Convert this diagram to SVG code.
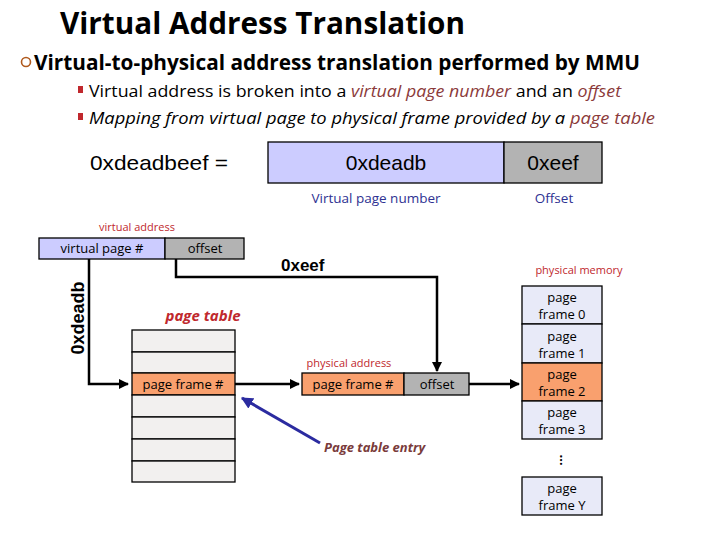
<svg xmlns="http://www.w3.org/2000/svg" width="720" height="540" viewBox="0 0 720 540">
<defs>
<style>
.t{font-family:"Open Sans","Liberation Sans",sans-serif;}
.a{font-family:"Liberation Sans",Arial,sans-serif;}
.box{stroke:#000;stroke-width:1.3;}
.vpn{fill:#ccccff;}
.off{fill:#b3b3b3;}
.org{fill:#f9a06e;}
.pt{fill:#f2f0ef;}
.pm{fill:#e8eaf8;}
.ln{fill:none;stroke:#000;stroke-width:2.5;}
.red{fill:#c0282d;}
.brn{fill:#8b3a3a;}
.lbl{font-size:13px;fill:#000;text-anchor:middle;}
</style>
<marker id="ah" viewBox="0 0 10 10" refX="9" refY="5" markerWidth="4" markerHeight="4" orient="auto"><path d="M0,0L10,5L0,10z" fill="#000"/></marker>
<marker id="bh" viewBox="0 0 10 10" refX="9" refY="5" markerWidth="4" markerHeight="4" orient="auto"><path d="M0,0L10,5L0,10z" fill="#2b2ba0"/></marker>
</defs>
<rect width="720" height="540" fill="#fff"/>

<g id="title">
<text class="t" x="60" y="34" font-size="30" font-weight="bold" textLength="405" lengthAdjust="spacingAndGlyphs">Virtual Address Translation</text>
<circle cx="26" cy="62" r="4.5" fill="none" stroke="#b05a1e" stroke-width="1.6"/>
<text class="t" x="34" y="70" font-size="21" font-weight="bold" textLength="606" lengthAdjust="spacingAndGlyphs">Virtual-to-physical address translation performed by MMU</text>
<rect x="78" y="86" width="5" height="7" fill="#c0282d"/>
<text class="t" x="89" y="97" font-size="16" textLength="532" lengthAdjust="spacingAndGlyphs">Virtual address is broken into a <tspan font-style="italic" class="brn">virtual page number</tspan> and an <tspan font-style="italic" class="brn">offset</tspan></text>
<rect x="78" y="113" width="5" height="7" fill="#c0282d"/>
<text class="t" x="89" y="124" font-size="16" font-style="italic" textLength="566" lengthAdjust="spacingAndGlyphs">Mapping from virtual page to physical frame provided by a <tspan class="brn">page table</tspan></text>
</g>

<g id="address">
<text class="a" x="90" y="170" font-size="21" textLength="138" lengthAdjust="spacingAndGlyphs">0xdeadbeef =</text>
<rect class="box vpn" x="268" y="142" width="236" height="41"/>
<rect class="box off" x="504" y="142" width="98" height="41"/>
<text class="a" x="386" y="170" font-size="21" text-anchor="middle">0xdeadb</text>
<text class="a" x="553" y="170" font-size="21" text-anchor="middle">0xeef</text>
<text class="t" x="376" y="203" font-size="13.5" fill="#2e3192" text-anchor="middle">Virtual page number</text>
<text class="t" x="554" y="203" font-size="13.5" fill="#2e3192" text-anchor="middle">Offset</text>
</g>

<g id="virtual-address">
<text class="t red" x="137" y="231" font-size="11" text-anchor="middle">virtual address</text>
<rect class="box vpn" x="39" y="238" width="126" height="21"/>
<rect class="box off" x="165" y="238" width="79" height="21"/>
<text class="t lbl" x="102" y="253">virtual page #</text>
<text class="t lbl" x="205" y="253">offset</text>
</g>

<g id="connectors">
<path class="ln" d="M89,259V384H128" marker-end="url(#ah)"/>
<path class="ln" d="M176,259V277H437V371" marker-end="url(#ah)"/>
<path class="ln" d="M235,384H299" marker-end="url(#ah)"/>
<path class="ln" d="M469,384H519" marker-end="url(#ah)"/>
<path d="M320,443L242,398" stroke="#2b2ba0" stroke-width="3" fill="none" marker-end="url(#bh)"/>
</g>

<g id="labels">
<text class="a" x="0" y="0" font-size="18" font-weight="bold" text-anchor="middle" transform="translate(84,318) rotate(-90)">0xdeadb</text>
<text class="a" x="281" y="271" font-size="17" font-weight="bold">0xeef</text>
</g>

<g id="page-table">
<text class="t red" x="203" y="321" font-size="15" font-weight="bold" font-style="italic" text-anchor="middle">page table</text>
<rect class="box pt" x="132" y="330" width="103" height="22"/>
<rect class="box pt" x="132" y="352" width="103" height="21"/>
<rect class="box org" x="132" y="373" width="103" height="22"/>
<rect class="box pt" x="132" y="395" width="103" height="22"/>
<rect class="box pt" x="132" y="417" width="103" height="22"/>
<rect class="box pt" x="132" y="439" width="103" height="22"/>
<rect class="box pt" x="132" y="461" width="103" height="21"/>
<text class="t lbl" x="183" y="389">page frame #</text>
</g>

<g id="physical-address">
<text class="t red" x="349" y="367" font-size="11" text-anchor="middle">physical address</text>
<rect class="box org" x="302" y="373" width="102" height="22"/>
<rect class="box off" x="404" y="373" width="65" height="22"/>
<text class="t lbl" x="353" y="389">page frame #</text>
<text class="t lbl" x="437" y="389">offset</text>
</g>

<g id="pte-label">
<text class="t" x="324" y="452" font-size="13" font-weight="bold" font-style="italic" fill="#7a3b3b">Page table entry</text>
</g>

<g id="physical-memory">
<text class="t red" x="579" y="274" font-size="11" text-anchor="middle">physical memory</text>
<rect class="box pm" x="522" y="286" width="80" height="38"/>
<rect class="box pm" x="522" y="324" width="80" height="39"/>
<rect class="box org" x="522" y="363" width="80" height="38"/>
<rect class="box pm" x="522" y="401" width="80" height="38"/>
<rect class="box pm" x="522" y="477" width="80" height="38"/>
<text class="t lbl" x="562" y="302">page</text><text class="t lbl" x="562" y="319">frame 0</text>
<text class="t lbl" x="562" y="341">page</text><text class="t lbl" x="562" y="358">frame 1</text>
<text class="t lbl" x="562" y="379">page</text><text class="t lbl" x="562" y="396">frame 2</text>
<text class="t lbl" x="562" y="417">page</text><text class="t lbl" x="562" y="434">frame 3</text>
<text class="t lbl" x="562" y="493">page</text><text class="t lbl" x="562" y="510">frame Y</text>
<text class="t" x="0" y="0" font-size="13" font-weight="bold" text-anchor="middle" transform="translate(560,460) rotate(90)">…</text>
</g>
</svg>
